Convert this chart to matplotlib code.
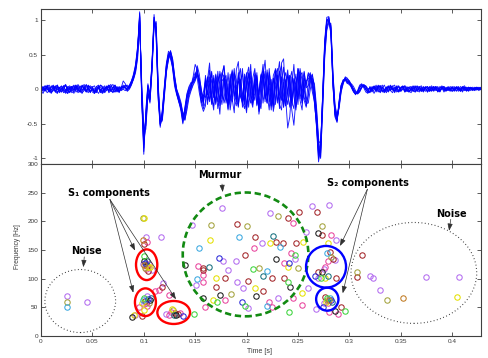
import numpy as np
import matplotlib
matplotlib.use("Agg")
import matplotlib.pyplot as plt
from matplotlib.patches import Ellipse

# ---------------- heart sound recordings (amplitude x 100), 2 ms sampling ----------------
SAMPLE_PERIOD = 0.002

trace_a = [2, -3, 5, 1, -4, 3, 6, -2, -5, 2,
           4, -1, -6, 3, 5, -3, 1, 6, -2, -4,
           3, 7, -1, -5, 2, 4, -4, -1, 5, 3,
           -3, 1, 4, -5, -2, 3, 6, 0, -4, 2,
           3, 2, 0, 4, 10, 18, 30, 55, 108, -10,
           -85, -38, 2, -12, 35, 100, 82, -8, -50, -34,
           0, 34, 50, 47, 34, 10, -5, -14, -22, -38,
           -30, -12, -4, 5, 12, 20, 30, 10, -12, -20,
           10, -8, 18, -20, -6, 22, 4, -24, 12, 16,
           -14, -22, 10, 26, -6, -18, 20, 8, -26, 2,
           24, -10, -20, 16, 30, -8, -28, 6, 22, -14,
           -4, 20, -24, -12, 28, 10, -22, -30, 14, 24,
           -8, -26, 18, 6, -16, 28, 14, -20, -6, 12,
           15, 20, 10, -10, -45, -95, -80, -10, 65, 100,
           102, 85, 10, -35, -45, -20, 5, 12, 15, 10,
           12, 5, -3, -8, -2, 6, 8, 2, -4, -6,
           3, -2, 5, 1, -4, 2, 6, -1, -3, 4,
           -2, -5, 3, 1, 4, -3, 0, 5, -2, -4,
           2, 5, -1, -3, 3, -2, 4, 1, -4, 2,
           5, -1, 2, -4, -1, 3, 4, -2, 1, -3,
           2, 4, -3, 1, -2, 3, 5, 0, -3, 2,
           -1, 3, 1, -2, 2]

trace_b = [-4, 2, 5, -1, 3, -5, -2, 4, 6, -3,
           0, 5, -4, -6, 2, 4, -1, 3, -5, -2,
           5, 1, -3, 6, 2, -4, -6, 1, 4, -2,
           3, -5, -1, 4, 7, -2, -4, 2, -3, 1,
           2, 6, 4, 1, 8, 15, 26, 48, 100, -5,
           -62, -45, -5, -20, 28, 92, 96, 5, -45, -40,
           -6, 28, 46, 52, 40, 16, -2, -10, -25, -45,
           -35, -15, -2, 2, 15, 24, 16, -5, -20, -8,
           -12, 16, 6, -22, 20, -4, -18, 26, 8, -20,
           -10, 24, -16, 4, 30, -12, -26, 14, -6, -22,
           18, 32, -8, -20, 12, -24, -6, 22, 14, -18,
           28, -6, -30, 16, 4, -20, 24, 34, -10, -24,
           -4, 20, -18, -28, 10, 22, -14, 6, 26, 2,
           5, 18, 12, -5, -35, -75, -78, -20, 55, 92,
           98, 90, 18, -28, -42, -25, 0, 10, 17, 12,
           8, 2, -4, -7, -3, 4, 7, 4, -1, -5,
           -3, 2, 4, -2, 1, -5, 2, 6, -1, -4,
           3, -1, -3, 4, 5, -2, 1, -4, 2, 3,
           -2, 4, 1, -3, 3, 5, -1, 2, -4, 0,
           3, -3, 1, 4, -2, 2, -4, 1, 3, -1,
           2, -2, 4, 1, -3, 2, 0, -2, 3, 1,
           -2, 2, 3, 0, 1]

trace_c = [5, 1, -3, 4, -2, -6, 2, 5, -1, 3,
           -4, 0, 6, -3, -5, 2, 4, -2, 7, 1,
           -5, -2, 3, 5, -4, 1, -6, -3, 2, 6,
           1, -4, 3, 6, -2, -5, 1, 4, -3, 2,
           12, 8, 2, 6, 12, 20, 34, 60, 112, -18,
           -94, -30, 8, -8, 40, 108, 75, -15, -55, -30,
           5, 38, 55, 50, 30, 4, -8, -18, -30, -50,
           -28, -8, 2, 8, 10, 16, 34, 22, -2, -24,
           20, -16, -4, 26, -12, 8, -28, -10, 22, 34,
           -6, -30, 12, -18, 24, 14, -22, 4, 30, -16,
           -34, 10, 26, -4, -16, 20, -26, 12, 36, -8,
           -20, 24, 6, -32, -14, 18, 40, -6, -26, 10,
           20, -4, -30, -52, -14, 30, 22, -16, 8, -18,
           10, 24, 8, -15, -55, -105, -85, -5, 72, 104,
           105, 80, 5, -40, -48, -18, 6, 14, 13, 8,
           10, 6, -2, -6, -4, 2, 6, 5, 0, -4,
           -5, 1, 4, -2, 6, 2, -4, -1, 3, 5,
           -2, 2, -5, 1, 4, -3, 3, 5, -1, -4,
           1, -3, 3, 5, -2, 0, -4, 2, 4, -1,
           -3, 2, 4, -2, 1, 5, -1, -3, 2, 1,
           4, -2, 1, 3, -3, 2, 3, -1, -2, 2,
           1, -1, 3, 1, -1]

trace_d = [-2, -6, 1, 4, -3, 5, 2, -4, 3, -5,
           -1, 4, 7, -2, -4, 3, -6, 1, 5, -3,
           6, 2, -4, 1, -5, 3, 5, -2, -6, 0,
           -4, 3, 1, 6, -2, -4, 5, -3, -1, 4,
           4, 3, -1, 2, 9, 17, 28, 52, 104, -2,
           -75, -50, -4, -15, 30, 98, 88, 0, -52, -42,
           -2, 30, 48, 55, 38, 12, -6, -16, -28, -40,
           -40, -20, -6, 4, 14, 18, 26, 8, -16, -28,
           -18, 6, 28, -14, -24, 14, 2, -16, 24, 18,
           -20, 8, -30, -8, 22, -12, 16, 30, -18, -28,
           8, 24, -6, -22, 20, 4, -32, -12, 26, 14,
           -16, 30, -4, -24, 8, 20, -28, 12, 32, -8,
           -22, 14, 26, -10, -30, 4, 24, -6, 16, -24,
           -10, 14, 20, 2, -40, -88, -92, -15, 60, 96,
           100, 88, 14, -30, -46, -22, 2, 11, 14, 14,
           9, 4, -2, -6, -6, -1, 4, 7, 4, -1,
           -4, 2, -6, 1, 5, -2, 3, -4, 0, 4,
           5, -1, 2, -4, -2, 3, 5, -3, 1, -2,
           -5, 1, 4, -1, 3, -3, -1, 4, 2, -3,
           2, 4, -2, 1, -3, 3, 1, -2, 4, 0,
           -3, 2, 3, -1, 1, -4, 2, 3, -1, 2,
           0, -2, 2, 1, 3]

trace_e = [1, 4, -2, 6, 2, -4, -1, 3, -5, 2,
           5, -3, 0, -6, 3, 4, -2, 5, 1, -4,
           -2, 3, 6, -1, -4, 2, -3, 4, 6, -2,
           -5, 1, 3, -3, 4, 7, -1, -4, 2, -2,
           0, -2, 1, 5, 12, 22, 36, 62, 98, 10,
           -55, -58, -10, -6, 38, 95, 90, -2, -46, -46,
           -12, 24, 44, 56, 44, 20, 0, -12, -20, -35,
           -45, -25, -8, 0, 8, 14, 20, 14, -6, -14,
           4, 18, -14, -6, 16, -20, 10, 22, -8, -16,
           14, -4, -22, 18, 6, -14, 24, -10, -18, 12,
           -26, 6, 20, -12, 14, -22, -4, 18, 28, -6,
           -20, 12, -8, -26, 20, 30, -6, -16, 10, -24,
           22, 8, -18, 14, -26, -6, 20, 24, -12, -20,
           -20, 0, 16, 8, -25, -70, -98, -30, 45, 85,
           96, 95, 25, -22, -38, -28, -4, 8, 18, 16,
           11, 5, 0, -4, -7, -4, 2, 6, 5, 1,
           1, -4, 3, -2, 4, 5, -1, -3, 2, -3,
           2, 5, -2, 1, -4, 2, 4, -1, -3, 3,
           4, -2, -4, 2, 0, 3, -3, 1, 4, -1,
           -2, 3, 1, -3, 4, 2, -2, 3, -1, 1,
           -3, 1, 3, -1, 4, 0, -2, 2, 3, -2,
           1, 2, -1, 2, 0]

trace_f = [-3, 3, -1, 5, -4, -2, 4, 1, 6, -3,
           2, -5, -3, 4, -1, 3, 6, -4, -2, 3,
           5, -1, 7, 2, -3, 1, -5, 4, 2, -4,
           -6, -1, 3, -2, 5, 1, -4, 3, -5, 2,
           6, 4, -2, 3, 11, 19, 32, 58, 110, -15,
           -80, -42, 5, -10, 32, 104, 86, -5, -50, -36,
           -4, 32, 52, 48, 36, 12, -4, -14, -24, -42,
           -34, -10, 0, 6, 18, 36, 28, 4, -22, -32,
           -24, 14, 38, -12, -30, 20, -8, -36, 16, 34,
           6, -28, 22, -14, -34, 28, 40, -10, -20, 18,
           -30, 8, 36, -18, -6, 24, -36, -16, 20, 42,
           -6, -30, 14, -20, 30, 12, -24, 38, 44, -12,
           -56, -40, 4, 36, -10, 30, -16, -30, 24, 4,
           24, 20, 4, -20, -50, -92, -88, -8, 68, 98,
           104, 84, 8, -36, -44, -16, 6, 12, 14, 10,
           6, 8, 4, -2, -6, -3, 3, 6, 3, -2,
           -3, 4, 1, 6, -2, -4, 3, -1, -5, 2,
           4, 1, -3, 5, -2, 2, 4, -4, 0, 3,
           -2, 3, 5, -1, -4, 2, -2, 3, 1, -3,
           2, -1, 4, 2, -3, 1, 3, -2, -1, 4,
           1, -3, 2, 4, -1, -2, 3, 1, -2, 2,
           3, 0, -1, 2, 1]

trace_g = [4, -1, 2, -5, -2, 3, 5, -3, 4, 1,
           -4, 2, 6, -1, 3, -5, -3, 4, 0, 5,
           -2, 4, -3, 1, 5, 2, -4, -1, 3, -5,
           2, 5, -2, 4, -3, 1, 6, -2, 3, -1,
           1, 5, 6, 3, 7, 14, 24, 44, 96, 2,
           -68, -52, -8, -18, 26, 90, 98, 8, -42, -44,
           -8, 26, 42, 54, 44, 18, 0, -8, -18, -34,
           -44, -30, -12, -2, 6, 12, 22, 16, 0, -18,
           16, -22, 8, 24, -10, -18, 26, -4, -22, 14,
           20, -16, -2, 28, -14, -24, 12, 4, -20, 22,
           10, -26, 16, -8, 24, 14, -18, -28, 8, 26,
           -12, 4, -24, 20, 28, -16, -8, 18, -26, 10,
           28, -10, -20, 16, 6, -22, 30, 12, -16, -26,
           -6, 16, 22, 0, -30, -80, -100, -25, 50, 88,
           100, 92, 22, -25, -40, -24, -2, 9, 15, 15,
           12, 6, 1, -4, -5, -2, 3, 5, 3, -1,
           2, -3, -1, 4, 1, 5, -2, -5, 2, 3,
           -1, 4, 6, -2, -3, 1, 3, -2, 4, -3,
           0, 2, -4, 3, 4, -1, 2, -3, 1, 3,
           -2, 4, 0, -3, 2, 3, -1, 2, -2, 1,
           3, -1, 2, -3, 1, 4, 0, -2, 2, 3,
           -1, 1, 2, 0, 2]

trace_h = [-5, 1, -2, 4, 6, -1, 3, -4, -6, 2,
           1, 5, -2, 3, -4, 0, 4, 6, -1, -3,
           -6, 2, -4, 5, 3, -2, 1, -5, 2, 6,
           4, -2, 5, -3, -1, 3, 1, -2, 4, 0,
           4, 1, -3, 0, 6, 16, 30, 54, 106, -8,
           -90, -34, 6, -14, 36, 104, 80, -12, -52, -32,
           2, 36, 50, 44, 32, 8, -6, -18, -26, -48,
           -26, -6, 4, 10, 10, 16, 24, 6, -14, -4,
           12, -4, -18, 14, 2, -22, 18, 8, -14, 20,
           -8, -20, 16, 24, -10, 6, -24, 12, 22, -16,
           4, 22, -14, -26, 12, 18, -8, 20, -20, 6,
           24, -18, -4, 16, -22, 10, 26, -12, -18, 14,
           -6, 20, -24, 4, 22, -14, 10, -20, 16, 8,
           22, 12, -4, -18, -52, -100, -82, -12, 62, 100,
           98, 80, 6, -38, -46, -20, 4, 13, 16, 11,
           9, 3, -3, -7, -4, 3, 6, 4, 0, -4,
           4, -1, 3, -4, 2, 5, -3, -1, 3, -2,
           6, 1, -2, 3, -4, 1, 4, 2, -3, 0,
           3, -3, 2, 4, -1, -3, 3, 1, -2, 4,
           0, -2, 3, 1, -4, 2, 4, -1, 1, -2,
           3, 1, -2, 2, -1, 3, 1, -3, 2, 0,
           2, -1, 1, 3, 1]

# ---------------- time-frequency components (time [s], frequency [Hz]) by colour ----------------
purple_t = [0.025, 0.045, 0.091, 0.102, 0.117, 0.102, 0.108, 0.099, 0.119, 0.103,
            0.100, 0.122, 0.1758, 0.1466, 0.2147, 0.1768, 0.1898, 0.1817, 0.191, 0.1508,
            0.1968, 0.2018, 0.2228, 0.2634, 0.280, 0.2576, 0.2867, 0.2472, 0.260, 0.231,
            0.286, 0.2757, 0.2692, 0.275, 0.268, 0.320, 0.3227, 0.330, 0.3746, 0.407]
purple_f = [69, 60, 37, 172, 172, 125, 115, 126, 93, 70,
            55, 39, 223, 194, 162, 131, 131, 115, 95, 89,
            83, 48, 215, 227, 228, 182, 167, 134, 83, 66,
            133, 116, 102, 58, 47, 105, 102, 80, 103.5, 103.5]

pink_t = [0.103, 0.105, 0.102, 0.115, 0.111, 0.125, 0.102, 0.103, 0.0955, 0.125,
          0.135, 0.126, 0.2076, 0.1525, 0.158, 0.158, 0.179, 0.1596, 0.2455, 0.2818,
          0.2433, 0.2367, 0.2455, 0.222, 0.2245, 0.2537, 0.279, 0.2763, 0.279, 0.289,
          0.280]
pink_f = [164, 126, 116, 81, 78, 71, 58, 53, 51, 37,
          40, 42, 153, 122, 106, 95, 62, 51, 197, 176,
          144, 128, 66, 60, 51, 54, 130, 121, 57, 38,
          42]

brown_t = [0.098, 0.100, 0.103, 0.104, 0.118, 0.101, 0.130, 0.133, 0.191, 0.198,
           0.1573, 0.158, 0.179, 0.2014, 0.1703, 0.2163, 0.208, 0.2406, 0.251, 0.2689,
           0.273, 0.248, 0.2357, 0.229, 0.2245, 0.2367, 0.281, 0.2844, 0.2698, 0.287,
           0.276, 0.292, 0.312, 0.3077]
brown_f = [35, 161, 122, 113, 85, 61, 40, 38, 195, 142,
           118, 115, 102, 96.5, 86, 79, 172, 206, 217, 217,
           176, 162, 162, 164, 101, 102, 147, 134, 112, 101,
           68, 51, 141, 103.5]

olive_t = [0.025, 0.099, 0.101, 0.105, 0.128, 0.165, 0.200, 0.2125, 0.185, 0.231,
           0.2737, 0.2498, 0.282, 0.278, 0.307, 0.337]
olive_f = [60, 205, 118, 58, 45, 194, 191, 118, 73, 209,
           192, 118, 138, 63, 111, 63]

yellow_t = [0.090, 0.100, 0.104, 0.106, 0.100, 0.098, 0.127, 0.1644, 0.1703, 0.2082,
            0.1677, 0.2796, 0.2552, 0.2228, 0.240, 0.2537, 0.2763, 0.277, 0.4045]
yellow_f = [36, 205, 120, 121, 45, 57, 47, 167, 102, 84,
            62, 163, 164, 163, 121, 75.5, 102, 60, 67.5]

cyan_t = [0.025, 0.099, 0.193, 0.154, 0.1515, 0.220, 0.2198, 0.2326, 0.278, 0.281]
cyan_f = [51, 62, 172, 153, 99, 114, 52, 155, 145, 67]

teal_t = [0.1035, 0.107, 0.129, 0.1638, 0.2157, 0.226, 0.279, 0.283]
teal_f = [130, 66, 36, 121, 105, 174, 105, 60]

black_t = [0.089, 0.100, 0.106, 0.131, 0.140, 0.174, 0.2095, 0.158, 0.2698, 0.229,
           0.2423, 0.2737, 0.286]
black_f = [33, 130, 63, 36, 124, 71, 70, 67, 180, 134,
           86, 112, 44]

blue_t = [0.101, 0.104, 0.138, 0.1735, 0.196, 0.2413, 0.2666, 0.282, 0.274]
blue_f = [127, 64, 35, 136, 59, 128, 105, 63, 51]

green_t = [0.0998, 0.100, 0.149, 0.206, 0.1716, 0.1985, 0.2472, 0.240, 0.2413, 0.2724,
           0.278, 0.296]
green_f = [140, 66, 39, 116, 59, 52, 141, 95, 42, 101,
           66, 44]

orange_t = [0.099, 0.100, 0.280, 0.3525]
orange_f = [167, 123, 62, 67]

time_ticks = [0, 0.05, 0.1, 0.15, 0.2, 0.25, 0.3, 0.35, 0.4]
time_tick_labels = ['0', '0.05', '0.1', '0.15', '0.2', '0.25', '0.3', '0.35', '0.4']
amp_ticks = [-1, -0.5, 0, 0.5, 1]
amp_tick_labels = ['-1', '-0.5', '0', '0.5', '1']
freq_ticks = [0, 50, 100, 150, 200, 250, 300]
freq_tick_labels = ['0', '50', '100', '150', '200', '250', '300']

# ---------------- figure ----------------
AXIS_GRAY = '#404040'
TICK_FONT = dict(family='Liberation Sans', size=4.6)

fig = plt.figure(figsize=(4.89, 3.58), dpi=100)
fig.patch.set_facecolor('white')
ax_wave = fig.add_axes([0.0838, 0.5419, 0.8998, 0.4330])
ax_tf = fig.add_axes([0.0838, 0.0615, 0.8998, 0.4804])


def style_axes(ax):
    for sp in ax.spines.values():
        sp.set_color(AXIS_GRAY)
        sp.set_linewidth(0.8)
    ax.tick_params(direction='in', length=2.6, width=0.6, color=AXIS_GRAY,
                   labelcolor='#3a3a3a', top=True, right=True, pad=2)


# waveform panel
for tr in [trace_a, trace_b, trace_c, trace_d, trace_e, trace_f, trace_g, trace_h]:
    amp = np.asarray(tr, dtype=float) / 100.0
    t = np.arange(amp.size) * SAMPLE_PERIOD
    ax_wave.plot(t, amp, color='#0000ff', lw=0.65, alpha=0.9)

ax_wave.set_xlim(0, 0.428)
ax_wave.set_ylim(-1.08, 1.16)
ax_wave.set_xticks(time_ticks)
ax_wave.set_xticklabels([])
ax_wave.set_yticks(amp_ticks)
ax_wave.set_yticklabels(amp_tick_labels, fontdict=TICK_FONT)
style_axes(ax_wave)

# time-frequency panel
COLOR_GROUPS = [
    (purple_t, purple_f, '#b36cf0'),
    (pink_t, pink_f, '#e8449e'),
    (brown_t, brown_f, '#a3262a'),
    (olive_t, olive_f, '#a3a23c'),
    (yellow_t, yellow_f, '#e4e000'),
    (cyan_t, cyan_f, '#3aa8e0'),
    (teal_t, teal_f, '#16707e'),
    (black_t, black_f, '#1a1a1a'),
    (blue_t, blue_f, '#2a2ad8'),
    (green_t, green_f, '#3cd43c'),
    (orange_t, orange_f, '#c07a22'),
]
for ts, fs, col in COLOR_GROUPS:
    ax_tf.plot(ts, fs, 'o', mfc='none', mec=col, ms=3.9, mew=0.75, zorder=3)

ax_tf.set_xlim(0, 0.428)
ax_tf.set_ylim(0, 300)
ax_tf.set_xticks(time_ticks)
ax_tf.set_xticklabels(time_tick_labels, fontdict=TICK_FONT)
ax_tf.set_yticks(freq_ticks)
ax_tf.set_yticklabels(freq_tick_labels, fontdict=TICK_FONT)
style_axes(ax_tf)
ax_tf.set_xlabel('Time [s]', fontdict=dict(family='Liberation Sans', size=5.0), color='#3a3a3a')
ax_tf.set_ylabel('Frequency [Hz]', fontdict=dict(family='Liberation Sans', size=4.8), color='#3a3a3a')
ax_tf.xaxis.set_label_coords(0.497, -0.072)
ax_tf.yaxis.set_label_coords(-0.046, 0.52)

# region outlines
ax_tf.add_patch(Ellipse((0.0382, 61), 0.0688, 110, fill=False, ec='#333333',
                        lw=0.8, ls=(0, (0.8, 2.2)), zorder=4))
ax_tf.add_patch(Ellipse((0.3627, 110), 0.1223, 176, fill=False, ec='#333333',
                        lw=0.8, ls=(0, (0.8, 2.2)), zorder=4))
ax_tf.add_patch(Ellipse((0.199, 142.3), 0.1222, 216, fill=False, ec='#128a12',
                        lw=1.9, ls=(0, (2.4, 1.4)), zorder=4))
for c, w, h in [((0.1028, 124.3), 0.0207, 53.5),
                ((0.1016, 58.9), 0.0204, 48.3),
                ((0.1291, 41.0), 0.0318, 40.1)]:
    ax_tf.add_patch(Ellipse(c, w, h, fill=False, ec='#ff0000', lw=1.7, zorder=5))
for c, w, h in [((0.2773, 120.7), 0.0389, 72.7),
                ((0.2785, 64.2), 0.0217, 40.1)]:
    ax_tf.add_patch(Ellipse(c, w, h, fill=False, ec='#0000ff', lw=1.7, zorder=5))

# labels and pointers
label_kw = dict(ha='center', va='center', fontsize=7, fontweight='bold',
                family='DejaVu Sans', color='black', zorder=6)
ax_tf.text(0.0657, 250, 'S\u2081 components', **label_kw)
ax_tf.text(0.1737, 281, 'Murmur', **label_kw)
ax_tf.text(0.3177, 266, 'S\u2082 components', **label_kw)
ax_tf.text(0.0438, 149, 'Noise', **label_kw)
ax_tf.text(0.3990, 213, 'Noise', **label_kw)


def pointer(start, end):
    ax_tf.annotate('', xy=end, xytext=start,
                   arrowprops=dict(arrowstyle='-|>,head_length=0.6,head_width=0.22',
                                   color='#303030', lw=0.5, mutation_scale=7,
                                   shrinkA=0, shrinkB=0), zorder=6)


pointer((0.0671, 238), (0.0915, 149))
pointer((0.0671, 238), (0.0898, 75.5))
pointer((0.0671, 238), (0.1313, 64))
pointer((0.1761, 265), (0.1768, 251))
pointer((0.3175, 256), (0.2909, 157))
pointer((0.3175, 256), (0.2935, 74.5))
pointer((0.0421, 138), (0.0412, 120))
pointer((0.3986, 203.5), (0.3970, 183.5))

fig.savefig('out.png', dpi=100, facecolor='white')
